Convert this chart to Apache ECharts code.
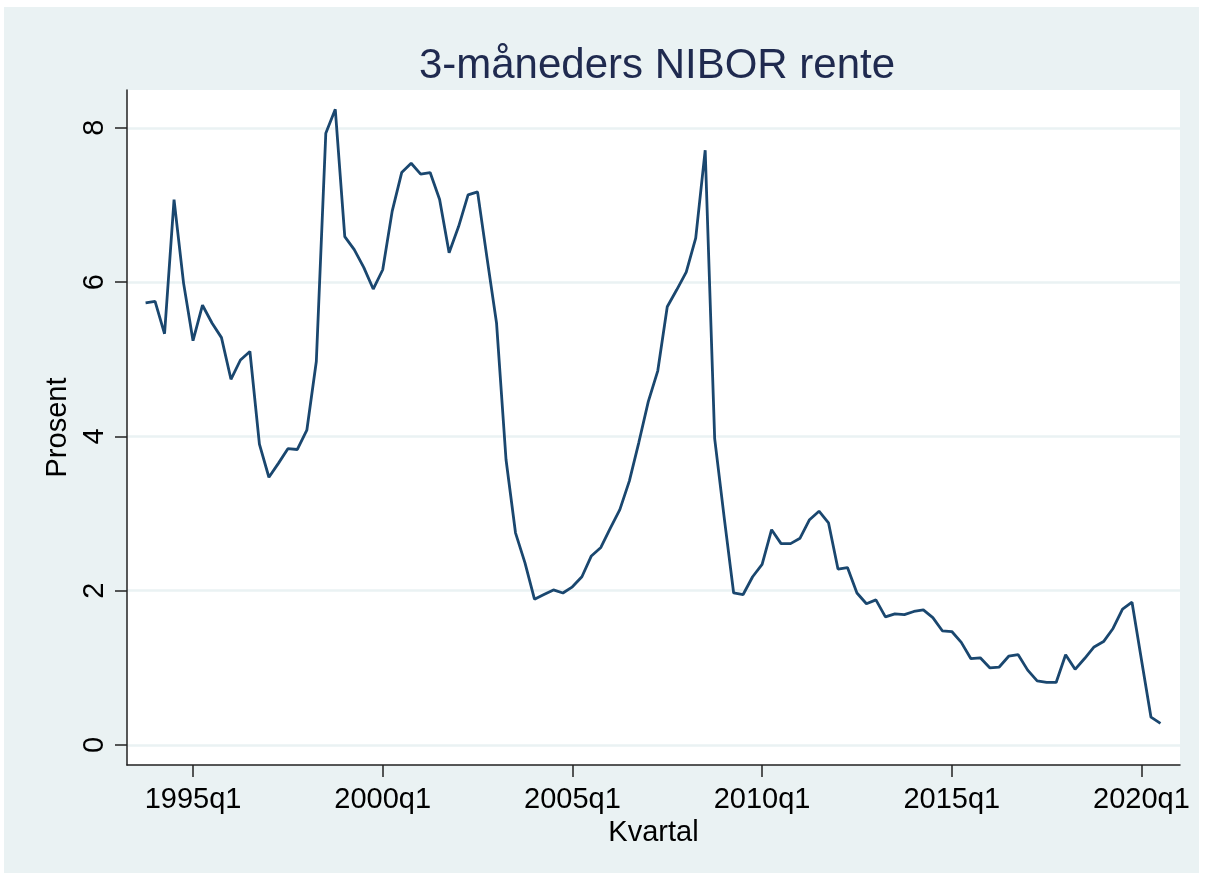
<!DOCTYPE html>
<html>
<head>
<meta charset="utf-8">
<title>3-måneders NIBOR rente</title>
<script src="https://cdn.jsdelivr.net/npm/echarts@6/dist/echarts.min.js"></script>
<style>
  html, body { margin: 0; padding: 0; background: #fff; }
  #main { width: 1205px; height: 879px; }
</style>
</head>
<body>
<div id="main"></div>
<script>
var dom = document.getElementById("main");
var chart = echarts.init(dom);

// first observation is 1993q4, one value per quarter up to 2020q3
var startYear = 1993;
var startQuarter = 4;

var nibor = [
  5.73,
  5.75, 5.33, 7.07, 5.99,
  5.24, 5.70, 5.47, 5.28,
  4.74, 4.99, 5.10, 3.90,
  3.47, 3.65, 3.84, 3.83,
  4.08, 4.97, 7.93, 8.24,
  6.59, 6.42, 6.19, 5.91,
  6.16, 6.92, 7.42, 7.54,
  7.40, 7.42, 7.07, 6.38,
  6.72, 7.13, 7.17, 6.31,
  5.47, 3.70, 2.75, 2.36,
  1.89, 1.95, 2.01, 1.97,
  2.05, 2.18, 2.45, 2.56,
  2.81, 3.05, 3.42, 3.92,
  4.45, 4.85, 5.68, 5.90,
  6.13, 6.57, 7.71, 3.97,
  2.95, 1.97, 1.95, 2.18,
  2.34, 2.79, 2.61, 2.61,
  2.68, 2.92, 3.03, 2.88,
  2.28, 2.30, 1.97, 1.83,
  1.88, 1.66, 1.70, 1.69,
  1.73, 1.75, 1.65, 1.48,
  1.47, 1.33, 1.12, 1.13,
  1.00, 1.01, 1.15, 1.17,
  0.97, 0.83, 0.81, 0.81,
  1.17, 0.98, 1.12, 1.27,
  1.34, 1.51, 1.76, 1.85,
  1.10, 0.36, 0.28
];

// tick labels (quarter index = year * 4 + quarter - 1)
var xTicks = ["1995q1", "2000q1", "2005q1", "2010q1", "2015q1", "2020q1"];
var yTicks = [0, 2, 4, 6, 8];

function quarterIndex(label) {
  var parts = label.split("q");
  return Number(parts[0]) * 4 + Number(parts[1]) - 1;
}

function quarterLabel(t) {
  return Math.floor(t / 4) + "q" + ((t % 4) + 1);
}

var t0 = startYear * 4 + startQuarter - 1;
var seriesData = nibor.map(function (v, i) {
  return [t0 + i, v];
});

var font = "'Liberation Sans', Arial, sans-serif";
var navy = "#1a476f";

chart.setOption({
  backgroundColor: "#ffffff",
  animation: false,
  graphic: [
    {
      type: "rect",
      z: -10,
      silent: true,
      shape: { x: 4, y: 7, width: 1195, height: 866 },
      style: { fill: "#eaf2f3" }
    }
  ],
  title: {
    text: "3-måneders NIBOR rente",
    left: 652,
    top: 40,
    textAlign: "center",
    textStyle: {
      fontFamily: font,
      fontSize: 42,
      fontWeight: "normal",
      color: "#1f2a4f"
    }
  },
  grid: {
    left: 127,
    right: 25,
    top: 90,
    bottom: 114,
    show: true,
    backgroundColor: "#ffffff",
    borderWidth: 0
  },
  xAxis: {
    type: "value",
    min: 7973.04,
    max: 8084.06,
    name: "Kvartal",
    nameLocation: "middle",
    nameGap: 50,
    nameTextStyle: { fontFamily: font, fontSize: 29, color: "#000" },
    axisLine: { show: true, onZero: false, lineStyle: { color: "#222", width: 1.5 } },
    axisTick: {
      show: true,
      length: 12,
      customValues: xTicks.map(quarterIndex),
      lineStyle: { color: "#222", width: 1.5 }
    },
    axisLabel: {
      customValues: xTicks.map(quarterIndex),
      formatter: function (v) { return quarterLabel(Math.round(v)); },
      fontFamily: font,
      fontSize: 29,
      color: "#000",
      margin: 20
    },
    splitLine: { show: false }
  },
  yAxis: {
    type: "value",
    min: -0.26,
    max: 8.49,
    name: "Prosent",
    nameLocation: "middle",
    nameRotate: 90,
    nameGap: 49,
    nameTextStyle: { fontFamily: font, fontSize: 29, color: "#000" },
    axisLine: { show: true, onZero: false, lineStyle: { color: "#222", width: 1.5 } },
    axisTick: {
      show: true,
      length: 12,
      customValues: yTicks,
      lineStyle: { color: "#222", width: 1.5 }
    },
    axisLabel: {
      customValues: yTicks,
      rotate: 90,
      fontFamily: font,
      fontSize: 29,
      color: "#000",
      margin: 18
    },
    splitLine: {
      show: true,
      lineStyle: { color: "#eaf2f3", width: 2.5 }
    }
  },
  series: [
    {
      type: "line",
      data: seriesData,
      showSymbol: false,
      lineStyle: { color: navy, width: 2.8 },
      itemStyle: { color: navy }
    }
  ]
});
</script>
</body>
</html>
